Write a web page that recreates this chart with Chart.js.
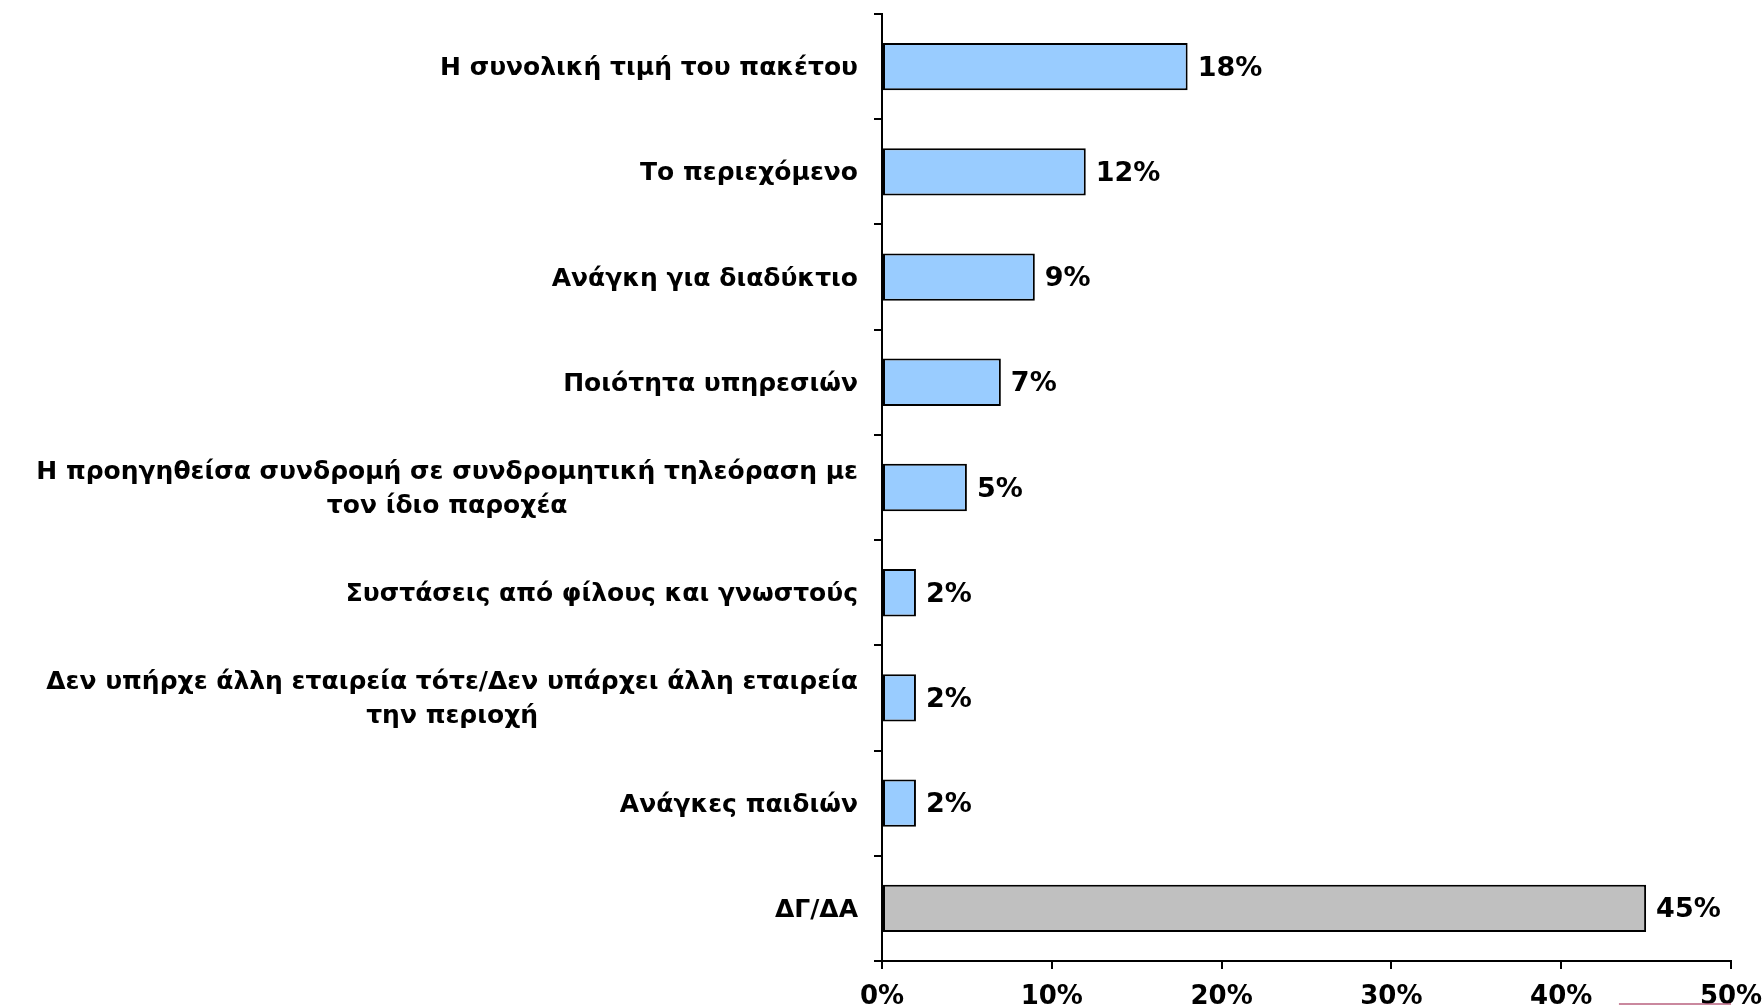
<!DOCTYPE html>
<html>
<head>
<meta charset="utf-8">
<script src="https://cdn.jsdelivr.net/npm/chart.js@4/dist/chart.umd.min.js"></script>
<style>
  html, body { margin: 0; padding: 0; background: #ffffff; overflow: hidden; }
  #wrap { width: 1763px; height: 1008px; }
</style>
</head>
<body>
<div id="wrap"><canvas id="chart" width="1763" height="1008"></canvas></div>
<script>
// Reasons for choosing the provider (share of respondents)
const categories = [
  ["Η συνολική τιμή του πακέτου"],
  ["Το περιεχόμενο"],
  ["Ανάγκη για διαδύκτιο"],
  ["Ποιότητα υπηρεσιών"],
  ["Η προηγηθείσα συνδρομή σε συνδρομητική τηλεόραση με", "τον ίδιο παροχέα"],
  ["Συστάσεις από φίλους και γνωστούς"],
  ["Δεν υπήρχε άλλη εταιρεία τότε/Δεν υπάρχει άλλη εταιρεία", "την περιοχή"],
  ["Ανάγκες παιδιών"],
  ["ΔΓ/ΔΑ"]
];
const values = [18, 12, 9, 7, 5, 2, 2, 2, 45];
const barColors = ["#99CCFF", "#99CCFF", "#99CCFF", "#99CCFF", "#99CCFF", "#99CCFF", "#99CCFF", "#99CCFF", "#C0C0C0"];
const xTickValues = [0, 10, 20, 30, 40, 50];

const labelFont = 'bold 25px "DejaVu Sans", sans-serif';

// Category names to the left of the axis; wrapped names are centred as a block
const categoryLabels = {
  id: 'categoryLabels',
  afterDraw(chart) {
    const ctx = chart.ctx;
    const y = chart.scales.y;
    const rightEdge = chart.chartArea.left - 24;
    ctx.save();
    ctx.fillStyle = '#000000';
    ctx.textBaseline = 'middle';
    ctx.font = labelFont;
    categories.forEach((lines, i) => {
      const cy = y.getPixelForValue(i) + 2;
      if (lines.length === 1) {
        ctx.textAlign = 'right';
        ctx.fillText(lines[0], rightEdge, cy);
      } else {
        const blockW = Math.max(...lines.map(l => ctx.measureText(l).width));
        const lh = 34;
        ctx.textAlign = 'center';
        lines.forEach((l, k) => {
          ctx.fillText(l, rightEdge - blockW / 2, cy + (k - (lines.length - 1) / 2) * lh);
        });
      }
    });
    ctx.restore();
  }
};

// Percentage printed after the end of each bar
const valueLabels = {
  id: 'valueLabels',
  afterDatasetsDraw(chart) {
    const ctx = chart.ctx;
    const meta = chart.getDatasetMeta(0);
    ctx.save();
    ctx.font = 'bold 27px "DejaVu Sans", sans-serif';
    ctx.fillStyle = '#000000';
    ctx.textAlign = 'left';
    ctx.textBaseline = 'middle';
    meta.data.forEach((bar, i) => {
      ctx.fillText(values[i] + '%', bar.x + 10, bar.y + 2);
    });
    ctx.restore();
  }
};

// Thin coloured rule in the bottom-right corner
const footerRule = {
  id: 'footerRule',
  afterDraw(chart) {
    const ctx = chart.ctx;
    const x = chart.scales.x;
    ctx.save();
    ctx.strokeStyle = '#b8607e';
    ctx.lineWidth = 1.5;
    ctx.beginPath();
    ctx.moveTo(x.getPixelForValue(43.4), chart.height - 4);
    ctx.lineTo(x.getPixelForValue(50), chart.height - 4);
    ctx.stroke();
    ctx.restore();
  }
};

new Chart(document.getElementById('chart'), {
  type: 'bar',
  data: {
    labels: categories.map(c => c.join(' ')),
    datasets: [{
      data: values,
      backgroundColor: barColors,
      borderColor: '#000000',
      borderWidth: 2,
      borderSkipped: false,
      categoryPercentage: 1.0,
      barPercentage: 0.45
    }]
  },
  options: {
    indexAxis: 'y',
    responsive: false,
    animation: false,
    devicePixelRatio: 1,
    layout: { autoPadding: false, padding: { top: 14, right: 32, left: 0, bottom: 0 } },
    plugins: { legend: { display: false }, tooltip: { enabled: false }, title: { display: false } },
    scales: {
      x: {
        type: 'linear',
        min: 0,
        max: 50,
        afterBuildTicks(scale) { scale.ticks = xTickValues.map(v => ({ value: v })); },
        afterFit(scale) {
          scale.height = 47;
          scale.paddingLeft = 0;
          scale.paddingRight = 0;
        },
        border: { display: true, color: '#000000', width: 2 },
        grid: { display: true, drawOnChartArea: false, drawTicks: true, tickLength: 8, color: '#000000', lineWidth: 2 },
        ticks: {
          color: '#000000',
          padding: 13,
          maxRotation: 0,
          font: { family: '"DejaVu Sans", sans-serif', weight: 'bold', size: 26 },
          callback: v => v + '%'
        }
      },
      y: {
        type: 'category',
        afterFit(scale) { scale.width = 882; },
        border: { display: true, color: '#000000', width: 2 },
        grid: { display: true, offset: true, drawOnChartArea: false, drawTicks: true, tickLength: 8, color: '#000000', lineWidth: 2 },
        ticks: { display: false }
      }
    }
  },
  plugins: [categoryLabels, valueLabels, footerRule]
});
</script>
</body>
</html>
